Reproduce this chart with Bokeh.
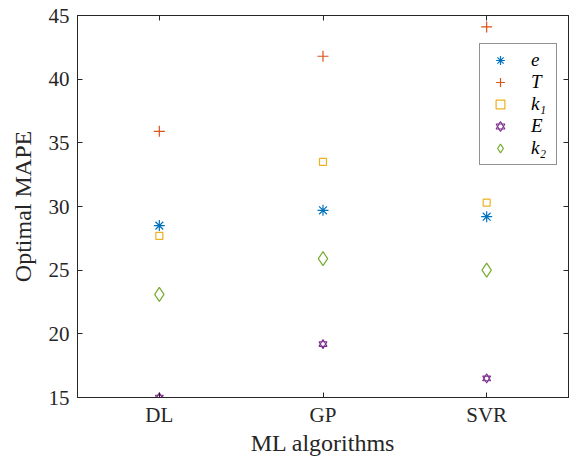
from bokeh.plotting import figure
from bokeh.models import (FactorRange, Range1d, LinearAxis, CategoricalAxis, FixedTicker,
                          Legend, LegendItem, ColumnDataSource)
from bokeh.embed import file_html
from bokeh.resources import INLINE

categories = ["DL", "GP", "SVR"]
e_vals = [28.5, 29.7, 29.2]
T_vals = [35.9, 41.8, 44.1]
k1_vals = [27.7, 33.5, 30.3]
E_vals = [15.0, 19.2, 16.5]
k2_vals = [23.1, 25.9, 25.0]
y_ticks = [15, 20, 25, 30, 35, 40, 45]

FONT = "Liberation Serif"
TXT = "#262626"

p = figure(width=573, height=458, x_range=FactorRange(factors=categories, range_padding=0),
           y_range=Range1d(15, 45), output_backend="svg", toolbar_location=None,
           min_border_left=77, min_border_right=5, min_border_top=15, min_border_bottom=60)
p.xgrid.visible = False
p.ygrid.visible = False
p.outline_line_color = TXT
p.outline_line_width = 1
p.background_fill_color = "white"
p.border_fill_color = "white"

src = ColumnDataSource(dict(x=categories, e=e_vals, T=T_vals, k1=k1_vals, E=E_vals, k2=k2_vals))

r_e = p.scatter("x", "e", source=src, marker="asterisk", size=11, line_color="#0072BD", line_width=1.2)
r_T = p.scatter("x", "T", source=src, marker="cross", size=11, line_color="#D95319", line_width=1.2)
r_k1 = p.scatter("x", "k1", source=src, marker="square", size=7, line_color="#EDB120",
                 fill_color=None, line_width=1.2)
r_E1 = p.scatter("x", "E", source=src, marker="triangle", size=8, line_color="#7E2F8E",
                 fill_color=None, line_width=1.1)
r_E2 = p.scatter("x", "E", source=src, marker="inverted_triangle", size=8, line_color="#7E2F8E",
                 fill_color=None, line_width=1.1)
r_k2 = p.scatter("x", "k2", source=src, marker="diamond", size=14, line_color="#77AC30",
                 fill_color=None, line_width=1.2)

for ax in (p.xaxis[0], p.yaxis[0]):
    ax.major_tick_in = 5
    ax.major_tick_out = 0
    ax.minor_tick_line_color = None
    ax.axis_line_color = TXT
    ax.major_tick_line_color = TXT
    ax.major_label_text_font = FONT
    ax.major_label_text_font_size = "21px"
    ax.major_label_text_color = TXT
    ax.axis_label_text_font = FONT
    ax.axis_label_text_font_size = "24px"
    ax.axis_label_text_font_style = "normal"
    ax.axis_label_text_color = TXT

p.yaxis[0].ticker = FixedTicker(ticks=y_ticks)
p.yaxis[0].major_label_standoff = 8
p.yaxis[0].axis_label = "Optimal MAPE"
p.yaxis[0].axis_label_standoff = 10
p.xaxis[0].axis_label = "ML algorithms"
p.xaxis[0].major_label_standoff = 5
p.xaxis[0].axis_label_standoff = 0

ra = LinearAxis(ticker=FixedTicker(ticks=y_ticks), major_tick_in=5, major_tick_out=0,
                minor_tick_line_color=None,
                major_label_overrides={t: "" for t in y_ticks},
                axis_line_color=TXT, major_tick_line_color=TXT)
p.add_layout(ra, "right")
ta = CategoricalAxis(major_tick_in=5, major_tick_out=0,
                     major_label_text_color=None, major_label_text_font_size="1px",
                     axis_line_color=TXT, major_tick_line_color=TXT)
p.add_layout(ta, "above")

legend = Legend(items=[
    LegendItem(label="e", renderers=[r_e]),
    LegendItem(label="T", renderers=[r_T]),
    LegendItem(label="k₁", renderers=[r_k1]),
    LegendItem(label="E", renderers=[r_E1, r_E2]),
    LegendItem(label="k₂", renderers=[r_k2]),
], location=(402, 232))
legend.label_text_font = FONT
legend.label_text_font_style = "italic"
legend.label_text_font_size = "19px"
legend.label_text_color = "black"
legend.border_line_color = TXT
legend.border_line_width = 1
legend.padding = 5
legend.spacing = 0
legend.label_height = 22
legend.glyph_height = 22
legend.glyph_width = 30
legend.label_standoff = 16
legend.margin = 0
p.add_layout(legend, "center")

open("out.html", "w").write(file_html(p, INLINE))
